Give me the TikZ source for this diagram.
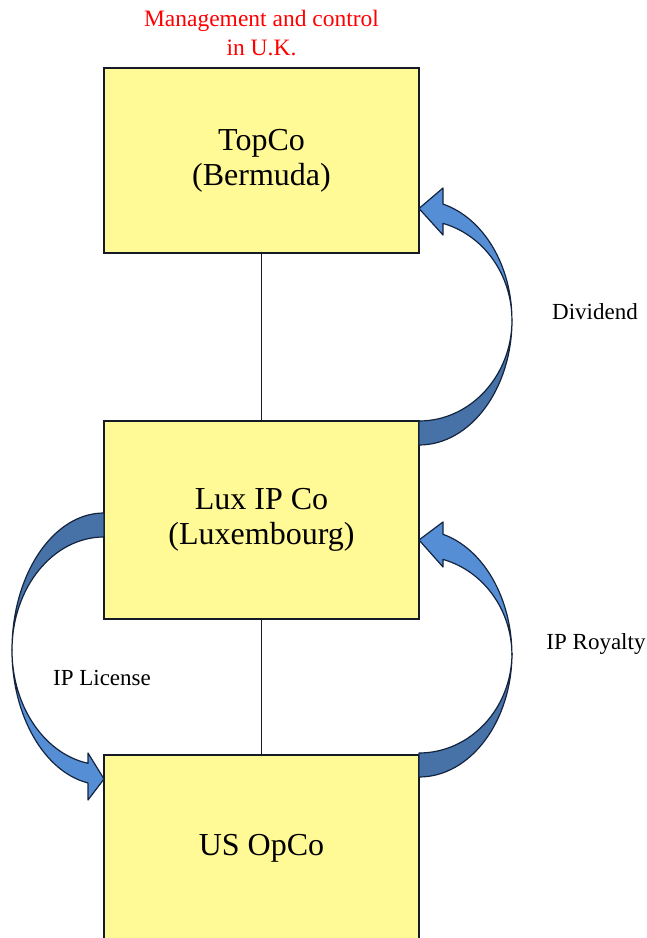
\documentclass[tikz,border=0pt]{standalone}
\usepackage{fontspec}
\setmainfont{Liberation Serif}
\usetikzlibrary{positioning}
\usetikzlibrary{calc}
\definecolor{boxyellow}{RGB}{255,250,150}
\definecolor{boxline}{RGB}{22,26,40}
\definecolor{arrowlight}{RGB}{85,142,213}
\definecolor{arrowdark}{RGB}{70,114,168}
\definecolor{arrowline}{RGB}{20,36,62}

\begin{document}
\begin{tikzpicture}[x=1pt,y=1pt,
  company/.style={rectangle,draw=boxline,fill=boxyellow,line width=1.5pt,minimum width=315pt,inner sep=0pt,outer sep=0pt,align=center,font=\fontsize{32}{35}\selectfont},
  flowlabel/.style={inner sep=0pt,font=\fontsize{23}{27}\selectfont},
  bandfront/.style={fill=arrowlight,draw=arrowline,line width=1.2pt,line join=round},
  bandback/.style={fill=arrowdark,draw=arrowline,line width=1.2pt,line join=round}]
\useasboundingbox (0,0) rectangle (646,938);
  \node(topco)[company,minimum height=185pt] at (261.5,777.5){TopCo\\(Bermuda)};
  \node(lux)[company,minimum height=198pt,below=168pt of topco]{Lux IP Co\\(Luxembourg)};
  \node(usop)[company,minimum height=186pt,below=136pt of lux]{US OpCo};
  \node(mgmt)[text=red,align=center,inner sep=0pt,font=\fontsize{23.5}{29}\selectfont,above=12pt of topco]{Management and control\\in U.K.};
\draw[boxline,line width=1.5pt](topco)--(lux);
\draw[boxline,line width=1.5pt](lux)--(usop);
% dividend
\filldraw[bandback](lux.north east) arc[start angle=-90,end angle=0,x radius=93pt,y radius=101pt]
  arc[start angle=0,end angle=-90,x radius=93pt,y radius=125pt] -- cycle;
\filldraw[bandfront]($(topco.east)+(0,-48)$) -- (443,703) -- (443,714.6)
  arc[start angle=75,end angle=0,x radius=93pt,y radius=100pt]
  arc[start angle=0,end angle=75,x radius=93pt,y radius=120pt] -- (443,750) -- cycle;
% royalty
\filldraw[bandback]($(usop.north east)+(0,2)$) arc[start angle=-90,end angle=0,x radius=93pt,y radius=100pt]
  arc[start angle=0,end angle=-90,x radius=93pt,y radius=124pt] -- cycle;
\filldraw[bandfront]($(lux.east)+(0,-20)$) -- (443,371) -- (443,378.6)
  arc[start angle=75,end angle=0,x radius=93pt,y radius=99pt]
  arc[start angle=0,end angle=75,x radius=93pt,y radius=125pt] -- (443,416) -- cycle;
% license
\filldraw[bandback]($(lux.west)+(0,7)$) arc[start angle=90,end angle=180,x radius=92pt,y radius=137pt]
  arc[start angle=180,end angle=90,x radius=92pt,y radius=113pt] -- cycle;
\filldraw[bandfront]($(usop.north west)+(0,-24)$) -- (88,185) -- (88,174.7)
  arc[start angle=260,end angle=180,x radius=92pt,y radius=115pt]
  arc[start angle=180,end angle=260,x radius=92pt,y radius=135pt] -- (88,138) -- cycle;
  \node(dividend)[flowlabel] at (595,626){Dividend};
  \node(royalty)[flowlabel] at (596,294){IP Royalty};
  \node(license)[flowlabel] at (102,260){IP License};
\end{tikzpicture}
\end{document}
